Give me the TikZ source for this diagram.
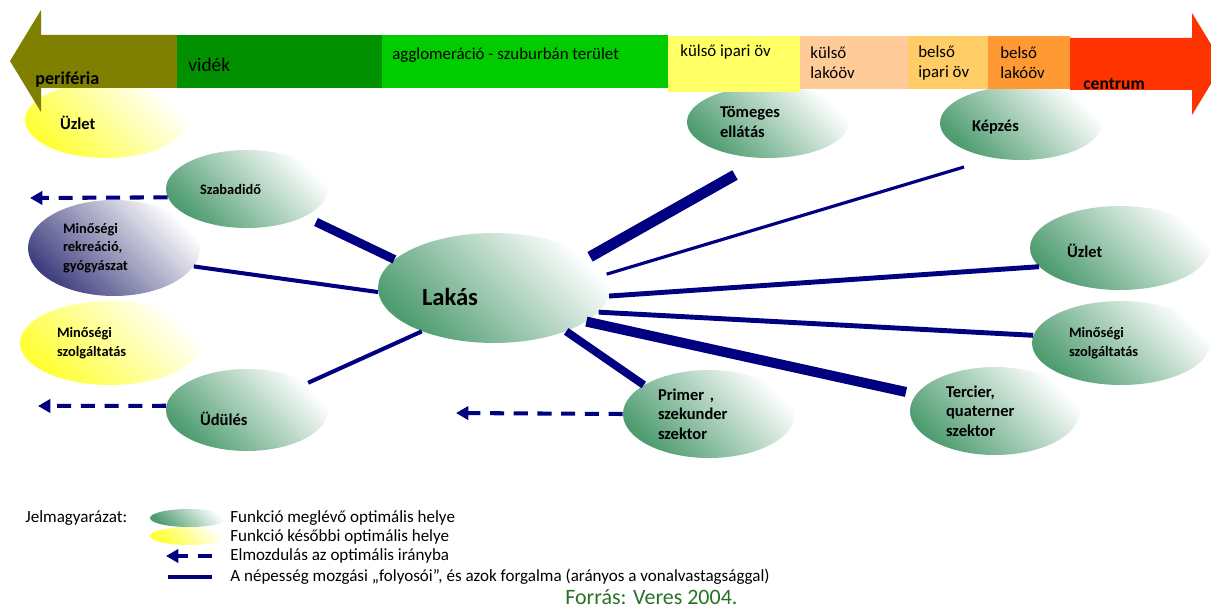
\documentclass[tikz,border=0pt]{standalone}
\usepackage{fontspec}
\setmainfont{Carlito}
\usetikzlibrary{arrows.meta, shapes.geometric}
\definecolor{bOlive}{HTML}{808000}
\definecolor{bDark}{HTML}{009000}
\definecolor{bLight}{HTML}{00CC00}
\definecolor{bYellow}{HTML}{FFFF66}
\definecolor{bPeach}{HTML}{FFCC99}
\definecolor{bSand}{HTML}{FFCC66}
\definecolor{bOrange}{HTML}{FF9933}
\definecolor{bRed}{HTML}{FF3300}
\definecolor{cBlue}{HTML}{000080}
\definecolor{fGreen}{HTML}{4E9C70}
\definecolor{fYellow}{HTML}{FFFF33}
\definecolor{fPurple}{HTML}{3F3F7F}
\definecolor{srcGreen}{HTML}{267326}
\tikzset{
  func/.style={ellipse, inner sep=0pt, align=left,
               font=\bfseries\fontsize{9.4}{11}\selectfont},
  fsmall/.style={font=\bfseries\fontsize{8.2}{10.5}\selectfont},
  fnow/.style={func, top color=white, bottom color=fGreen, shading angle=-45},
  flater/.style={func, top color=white, bottom color=fYellow, shading angle=-45},
  fspec/.style={func, top color=white, bottom color=fPurple, shading angle=-45},
  esize/.style n args={3}{minimum width=#1cm, minimum height=#2cm, text width=#3cm},
  corr/.style={draw=cBlue, line width=#1},
  shiftarr/.style={draw=cBlue, line width=2.3pt, dash pattern=on 8pt off 5.5pt,
                   -{Triangle[length=7pt, width=7.5pt]}},
  blab/.style={anchor=west, inner sep=0pt, align=left,
               font=\fontsize{9.6}{11.3}\selectfont},
  lgtext/.style={anchor=west, inner sep=0pt, font=\fontsize{9.7}{10}\selectfont},
}

\begin{document}
\begin{tikzpicture}[x=0.02cm, y=-0.02cm]
    \useasboundingbox (0,0) rectangle (1211,608);
    \clip (0,0) rectangle (1211,608);
    % functions
    \node[flater, esize={3.24}{1.52}{1.84}, text height=0.4cm] (uzletL) at (106,120) {Üzlet};
    \node[fnow, fsmall, esize={3.24}{1.56}{1.88}] (szabad) at (247,189) {Szabadidő};
    \node[fspec, fsmall, esize={3.44}{1.92}{2.04}] (rekr) at (114,248) {Minőségi\\rekreáció,\\gyógyászat};
    \node[flater, fsmall, esize={3.6}{1.68}{2.12}] (szolgL) at (110,343) {Minőségi\\szolgáltatás};
    \node[fnow, esize={3.24}{1.64}{1.88}, text height=0.62cm] (udules) at (247,410) {Üdülés};
    \node[fnow, esize={4.64}{2.2}{2.88}, text height=0.7cm, font=\bfseries\fontsize{14}{16}\selectfont] (lakas) at (494,288) {Lakás};
    \node[fnow, esize={3.24}{1.44}{1.92}] (tomeges) at (768,122) {Tömeges\\ellátás};
    \node[fnow, esize={3.24}{1.48}{1.96}, text height=0.4cm] (kepzes) at (1021,123) {Képzés};
    \node[fnow, esize={3.6}{1.68}{2.12}, text height=0.4cm] (uzletR) at (1120,248) {Üzlet};
    \node[fnow, fsmall, esize={3.56}{1.68}{2.08}] (szolgR) at (1121,343) {Minőségi\\szolgáltatás};
    \node[fnow, esize={3.44}{1.76}{2.04}] (primer) at (709,414) {Primer ,\\szekunder\\szektor};
    \node[fnow, esize={3.4}{1.76}{1.96}] (tercier) at (995,411) {Tercier,\\quaterner\\szektor};
    % corridors
    \coordinate (szabadEnd) at (316,222);
    \coordinate (tomegesEnd) at (735,175);
    \coordinate (kepzesEnd) at (964,167);
    \coordinate (tercierEnd) at (906,392);
    \draw[corr=5pt] (lakas.164.8) -- (szabadEnd);
    \draw[corr=2.3pt] (lakas.182) -- (rekr.347);
    \draw[corr=2.3pt] (lakas.211) -- (udules.24);
    \draw[corr=6.2pt] (lakas.18) -- (tomegesEnd);
    \draw[corr=1.8pt] (lakas.7) -- (kepzesEnd);
    \draw[corr=2.8pt] (lakas.356) -- (uzletR.193);
    \draw[corr=2.8pt] (lakas.347) -- (szolgR.175);
    \draw[corr=5.7pt] (lakas.340) -- (tercierEnd);
    \draw[corr=4.5pt] (lakas.329) -- (primer.156);
    % moves
    \coordinate (szabadTo) at (30,198);
    \coordinate (udulesTo) at (38,406);
    \coordinate (primerTo) at (456,413);
    \draw[shiftarr] (szabad.186) -- (szabadTo);
    \draw[shiftarr] (udules.177) -- (udulesTo);
    \draw[shiftarr] (primer.180) -- (primerTo);
    % zones
    \fill[bOlive] (177,35) -- (41,35) -- (41,10) -- (10,61) -- (41,112) -- (41,88) -- (177,88) -- cycle;
    \fill[bDark] (177,35) rectangle (382,88);
    \fill[bLight] (382,35) rectangle (668,88);
    \fill[bYellow] (668,36) rectangle (800,92);
    \fill[bPeach] (800,36) rectangle (908,89);
    \fill[bSand] (908,36) rectangle (988,89);
    \fill[bOrange] (988,36) rectangle (1070,89);
    \fill[bRed] (1070,38) -- (1192,38) -- (1192,13) -- (1223,64) -- (1192,115) -- (1192,90) -- (1070,90) -- cycle;
    \node[blab, font=\bfseries\fontsize{10.3}{12}\selectfont] (periferia) at (35,80) {periféria};
    \node[blab, font=\fontsize{11}{13}\selectfont] (videk) at (188,65) {vidék};
    \node[blab] (agglo) at (392,55) {agglomeráció - szuburbán terület};
    \node[blab] (kulsoIpar) at (680,52) {külső ipari öv};
    \node[blab] (kulsoLako) at (810,63) {külső\\lakóöv};
    \node[blab] (belsoIpar) at (918,63) {belső\\ipari öv};
    \node[blab] (belsoLako) at (1000,63) {belső\\lakóöv};
    \node[blab, font=\bfseries\fontsize{10}{12}\selectfont] (centrum) at (1083,84) {centrum};
    % legend
    \node[lgtext] (jelm) at (25,518) {Jelmagyarázat:};
    \node[fnow, minimum width=1.56cm, minimum height=0.36cm] (lgNow) at (189,518) {};
    \node[flater, minimum width=1.56cm, minimum height=0.36cm] (lgLater) at (189,536) {};
    \coordinate (lgMoveA) at (212,556);
    \coordinate (lgMoveB) at (166,556);
    \draw[shiftarr] (lgMoveA) -- (lgMoveB);
    \coordinate (lgCorrA) at (168,577);
    \coordinate (lgCorrB) at (212,577);
    \draw[corr=2.8pt] (lgCorrA) -- (lgCorrB);
    \node[lgtext] (lgNowT) at (230,518) {Funkció meglévő optimális helye};
    \node[lgtext] (lgLaterT) at (230,537) {Funkció későbbi optimális helye};
    \node[lgtext] (lgMoveT) at (230,556) {Elmozdulás az optimális irányba};
    \node[lgtext] (lgCorrT) at (230,577) {A népesség mozgási „folyosói”, és azok forgalma (arányos a vonalvastagsággal)};
    \node[lgtext, text=srcGreen, font=\fontsize{12.5}{13}\selectfont] (forras) at (565,597) {Forrás: Veres 2004.};
\end{tikzpicture}
\end{document}
